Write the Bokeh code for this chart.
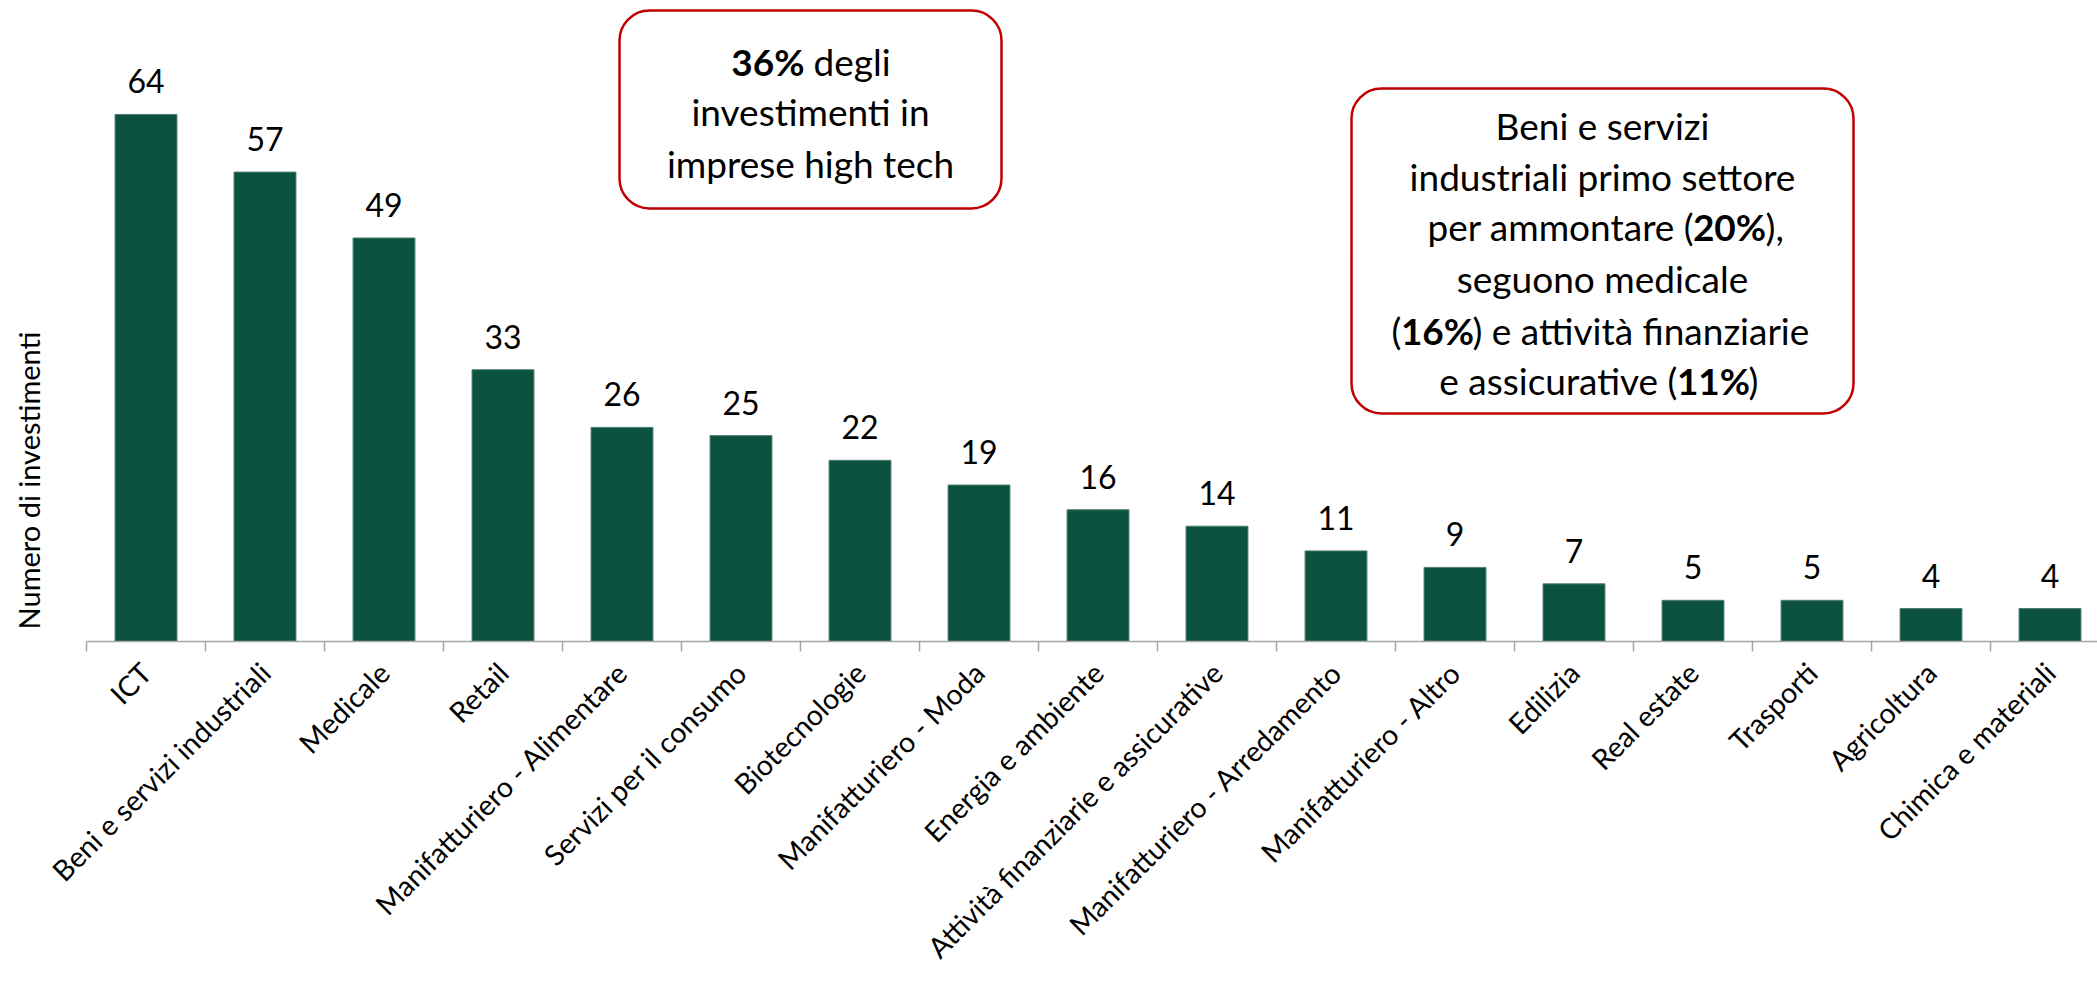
import math
from bokeh.plotting import figure
from bokeh.models import Range1d, FixedTicker, ColumnDataSource, Label, BoxAnnotation
from bokeh.embed import file_html
from bokeh.resources import INLINE
from bokeh.core.properties import value

# ---------------- data ----------------
categories = [
    "ICT", "Beni e servizi industriali", "Medicale", "Retail",
    "Manifatturiero - Alimentare", "Servizi per il consumo", "Biotecnologie",
    "Manifatturiero - Moda", "Energia e ambiente",
    "Attività finanziarie e assicurative", "Manifatturiero - Arredamento",
    "Manifatturiero - Altro", "Edilizia", "Real estate", "Trasporti",
    "Agricoltura", "Chimica e materiali",
]
investimenti = [64, 57, 49, 33, 26, 25, 22, 19, 16, 14, 11, 9, 7, 5, 5, 4, 4]
y_title = "Numero di investimenti"

# ---------------- layout helpers (page pixels -> data) ----------------
W, H = 2097, 982
CAT_PX = 119.0
AX0_PX = 86.0       # left end of the category axis (page px)
BASE_PX = 641.0     # y=0 (page px)
UNIT_PX = 8.235     # px per unit
TXT_DY = 12         # baseline correction (px)

def gx(px):
    return (px - AX0_PX) / CAT_PX - 0.5

def gy(py):
    return (BASE_PX - py) / UNIT_PX

FONT = "Lato"
GREEN = "#0B5240"
RED = "#C00000"
GRAY = "#A6A6A6"

xs = list(range(len(categories)))
src = ColumnDataSource(dict(x=xs, y=investimenti, lab=[str(v) for v in investimenti]))

p = figure(width=W, height=H,
           x_range=Range1d(gx(0), gx(W)),
           y_range=Range1d(0, gy(0)),
           output_backend="svg", toolbar_location=None,
           y_axis_location=None,
           min_border_left=0, min_border_right=0, min_border_top=0,
           min_border_bottom=int(H - BASE_PX))
p.outline_line_color = None
p.xgrid.visible = False
p.ygrid.visible = False
p.background_fill_color = "white"
p.border_fill_color = "white"

p.vbar(x="x", top="y", width=0.52, bottom=0, source=src,
       fill_color=GREEN, line_color="#4E7E70", line_width=1)

p.text(x="x", y="y", text="lab", source=src, text_align="center",
       text_baseline="alphabetic", y_offset=-33,
       text_font=value(FONT), text_font_size="32px", text_color="black")

ax = p.xaxis[0]
ax.ticker = FixedTicker(ticks=xs, minor_ticks=[i - 0.5 for i in range(len(categories) + 1)])
ax.major_label_overrides = {i: c for i, c in zip(xs, categories)}
ax.bounds = (-0.5, len(categories) - 0.5)
ax.major_label_orientation = math.pi / 4
ax.major_label_text_font = FONT
ax.major_label_text_font_size = "28.5px"
ax.major_label_text_color = "black"
ax.major_label_standoff = 16
ax.major_tick_out = 0
ax.major_tick_in = 0
ax.major_tick_line_color = None
ax.minor_tick_out = 10
ax.minor_tick_in = 0
ax.minor_tick_line_color = GRAY
ax.minor_tick_line_width = 1.5
ax.axis_line_color = GRAY
ax.axis_line_width = 1.5

# y-axis title
p.add_layout(Label(x=gx(28), y=gy(480), text=y_title, angle=math.pi / 2,
                   text_align="center", text_baseline="middle",
                   text_font=FONT, text_font_size="29px", text_color="black"))

# ---------------- callout boxes ----------------
BOX_FS = "37px"

def box(l, r, t, b):
    p.add_layout(BoxAnnotation(left=gx(l), right=gx(r), top=gy(t), bottom=gy(b),
                               fill_color="white", fill_alpha=1.0,
                               line_color=RED, line_alpha=1.0, line_width=2.5,
                               border_radius=30, level="underlay"))

def txt(t, px, py, align="center", bold=False):
    p.add_layout(Label(x=gx(px), y=gy(py - TXT_DY), text=t, text_align=align,
                       text_baseline="alphabetic", text_font=FONT,
                       text_font_size=BOX_FS, text_color="black",
                       text_font_style="bold" if bold else "normal"))

box(619, 1001, 10, 208)
txt("36%", 804, 73, "right", True)
txt("degli", 813, 73, "left")
txt("investimenti in", 810, 123)
txt("imprese high tech", 810, 175)

box(1351, 1853, 88, 413)
txt("Beni e servizi", 1602, 137)
txt("industriali primo settore", 1602, 188)
txt("per ammontare (", 1694, 238, "right")
txt("20%", 1729, 238, "center", True)
txt("),", 1765, 238, "left")
txt("seguono medicale", 1602, 290)
txt("(", 1401, 342, "right")
txt("16%", 1437, 342, "center", True)
txt(") e attività finanziarie", 1472, 342, "left")
txt("e assicurative (", 1677, 392, "right")
txt("11%", 1713, 392, "center", True)
txt(")", 1748, 392, "left")

open("out.html", "w").write(file_html(p, INLINE))
